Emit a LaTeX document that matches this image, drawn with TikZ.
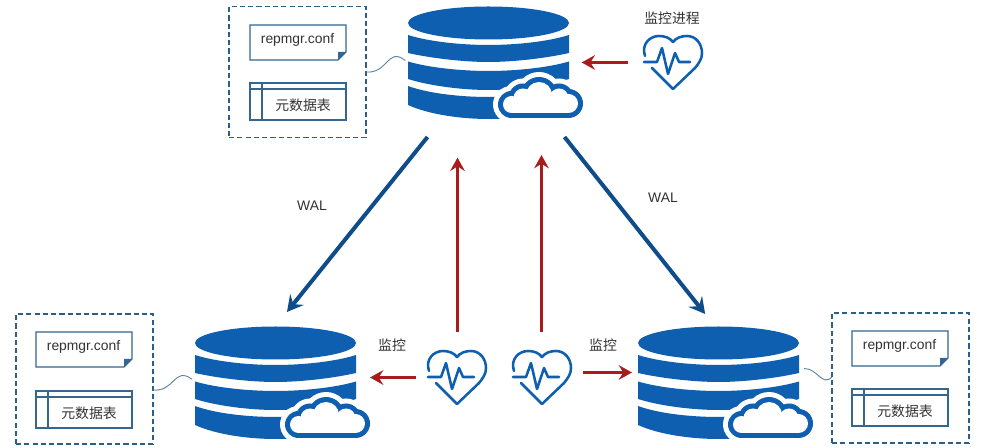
\documentclass[tikz,border=0pt]{standalone}
\usepackage{fontspec}
\setmainfont{Liberation Sans}
\newfontfamily\cjk{Noto Sans CJK SC}
\usetikzlibrary{arrows.meta}
\definecolor{dbblue}{HTML}{0F5FB0}
\definecolor{walblue}{HTML}{0F4C8A}
\definecolor{redarr}{HTML}{A81C1C}
\definecolor{boxblue}{HTML}{2B5F85}
\definecolor{docblue}{HTML}{34668F}
\definecolor{txt}{HTML}{333333}
\tikzset{
  x=0.75pt,y=-0.75pt,
  ghost/.style={inner sep=0pt,outer sep=0pt,minimum width=#1},
  dashbox/.style={draw=boxblue,line width=0.85pt,dash pattern=on 3.9pt off 2.3pt,inner sep=0pt,outer sep=0pt,minimum width=102.75pt,minimum height=98pt},
  docbox/.style={draw=docblue,line width=0.9pt,fill=white},
  walarrow/.style={draw=walblue,line width=3pt,-{Stealth[length=12pt,width=13pt,inset=4.5pt]}},
  redarrow/.style={draw=redarr,line width=2.2pt,-{Stealth[length=10pt,width=11pt,inset=3.5pt]}},
  redup/.style={redarrow,line width=2.4pt},
  linkline/.style={draw=docblue!80,line width=0.7pt},
  lbl/.style={text=txt,font=\fontsize{10.4pt}{12pt}\selectfont,inner sep=0pt},
  cjklbl/.style={text=txt,font=\fontsize{10.4pt}{12pt}\selectfont\cjk,inner sep=0pt},
  heartline/.style={draw=dbblue,line width=1.9pt,line cap=round,line join=round},
}
\newcommand{\dbband}[4]{\fill[dbblue] (0,#1) .. controls (22,{#2-3}) and (55,#2) .. (80.5,#2) .. controls (106,#2) and (139,{#2-3}) .. (161,#1) -- (161,#3) .. controls (139,{#4-4}) and (106,#4) .. (80.5,#4) .. controls (55,#4) and (22,{#4-4}) .. (0,#3) -- cycle;}
\newcommand{\cloudshape}[2]{%
  \fill[#1] (103.5,98.5) circle ({(8.5+#2)*0.75pt});
  \fill[#1] (115,92) circle ({(9.5+#2)*0.75pt});
  \fill[#1] (131,89) circle ({(13+#2)*0.75pt});
  \fill[#1] (151,92) circle ({(9.5+#2)*0.75pt});
  \fill[#1] (160.5,97.5) circle ({(9.5+#2)*0.75pt});
  \fill[#1] (103.5,{92-#2}) rectangle (160.5,{107+#2});
}
\newcommand{\dbicon}[3]{%
  \node[ghost=120.75pt,minimum height=84.75pt] (#1) at ({#2+80.5},{#3+56.5}) {};
  \begin{scope}[shift={(#2,#3)}]
    \fill[dbblue] (80.5,17) ellipse [x radius=80.5, y radius=16.5];
    \dbband{29}{39}{47}{56}
    \dbband{55.5}{65}{73}{84}
    \dbband{80}{91}{99}{113}
    \cloudshape{white}{10}
    \cloudshape{dbblue}{5}
    \cloudshape{white}{0}
  \end{scope}
}
\newcommand{\hearticon}[3]{%
  \node[ghost=45pt,minimum height=41.25pt] (#1) at ({#2+30},{#3+27.5}) {};
  \begin{scope}[shift={(#2,#3)}]
    \draw[heartline] (2,21) .. controls (-2,9) and (7,1) .. (16,1) .. controls (22,1) and (27,3) .. (30,7) .. controls (33,3) and (38,1) .. (44,1) .. controls (53,1) and (59,9) .. (59,18) .. controls (59,24) and (56,28) .. (52,33) -- (30,54) -- (9,33);
    \draw[heartline] (1,27) -- (14,27) -- (19,13) -- (25,39) -- (32,18) -- (36,27) -- (47,27);
  \end{scope}
}
\newcommand{\filegroup}[5]{%
  \begin{scope}[shift={(#2,#3)}]
    \draw[docbox] (0,0) -- (96,0) -- (96,27) -- (88,35) -- (0,35) -- cycle;
    \fill[docblue] (96,27) -- (88,27) -- (88,35) -- cycle;
    \node[lbl] (doc#1) at (47.5,14.5) {repmgr.conf};
  \end{scope}
  \begin{scope}[shift={(#4,#5)}]
    \draw[docbox] (0,0) rectangle (96,37);
    \draw[docbox] (0,6) -- (96,6) (12,0) -- (12,37);
    \node[cjklbl] (tab#1) at (53,22) {元数据表};
  \end{scope}
}
\begin{document}
\begin{tikzpicture}
\useasboundingbox (0,0) rectangle (989,448);
\fill[white] (0,0) rectangle (989,448);

% dashed boxes
\node[dashbox] (bT) at (297.5,72) {};
\node[dashbox,minimum height=97.5pt] (bL) at (84.5,379) {};
\node[dashbox,minimum height=97.5pt] (bR) at (900.5,378) {};

\filegroup{T}{250}{25}{250}{83}
\filegroup{L}{36}{332}{36}{391}
\filegroup{R}{852}{331}{852}{389}

% databases
\dbicon{dbT}{408}{6}
\dbicon{dbL}{195}{326}
\dbicon{dbR}{638}{326}

% hearts
\hearticon{hT}{643}{35}
\hearticon{hL}{427}{350}
\hearticon{hR}{512}{350}

% thin links
\draw[linkline] (bT.east) .. controls +(22,2) and +(-18,-14) .. ([shift={(-2pt,1.5pt)}]dbT.west);
\draw[linkline] ([yshift=-8.25pt]bL.east) .. controls +(22,2) and +(-18,-13) .. ([shift={(-2.25pt,2.5pt)}]dbL.west);
\draw[linkline] ([shift={(3.75pt,10.5pt)}]dbR.east) .. controls +(14,0) and +(-10,10) .. ([yshift=0.75pt]bR.west);

% WAL arrows
\draw[walarrow] ([shift={(-45.75pt,-13.5pt)}]dbT.south) -- ([shift={(8.6pt,10.5pt)}]dbL.north);
\draw[walarrow] ([shift={(57pt,-13.5pt)}]dbT.south) -- ([shift={(-10pt,9pt)}]dbR.north);

% red arrows
\draw[redarrow,shorten <=11pt,shorten >=9.5pt] (hT.west) -- (hT.west -| dbT.east);
\draw[redarrow,shorten <=8.25pt,shorten >=10.5pt] (hL.west) -- (hL.west -| dbL.east);
\draw[redarrow,shorten <=8.25pt,shorten >=4.5pt] ([yshift=3.75pt]hR.east) -- ([yshift=3.75pt]hR.east -| dbR.west);
\draw[redup,shorten <=13.5pt,shorten >=29pt] ([xshift=0.375pt]hL.north) -- ([xshift=0.375pt]hL.north |- dbT.south);
\draw[redup,shorten <=13.5pt,shorten >=27pt] ([xshift=-0.375pt]hR.north) -- ([xshift=-0.375pt]hR.north |- dbT.south);

% labels
\node[lbl] (walL) at (312,206) {WAL};
\node[lbl] (walR) at (663,198) {WAL};
\node[cjklbl] (lbT) at (672,18) {监控进程};
\node[cjklbl] (lbL) at (392,345) {监控};
\node[cjklbl] (lbR) at (603,345) {监控};
\end{tikzpicture}
\end{document}
